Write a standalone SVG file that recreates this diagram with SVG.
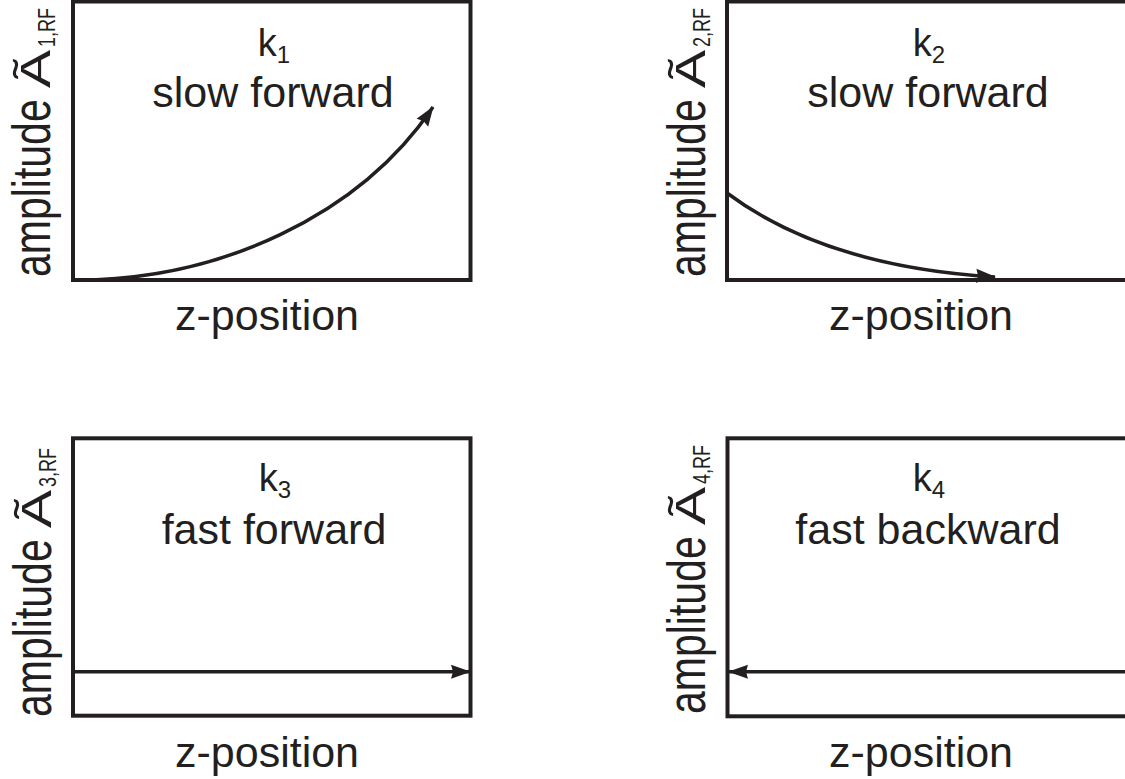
<svg xmlns="http://www.w3.org/2000/svg" width="1125" height="779" viewBox="0 0 1125 779">
  <style>
    .frame { fill: none; stroke: #231f20; stroke-width: 4; }
    .conn { fill: none; stroke: #231f20; stroke-width: 3.5; }
    .t { font-family: "Liberation Sans", Arial, Helvetica, sans-serif; fill: #231f20; }
    .title { font-size: 43px; text-anchor: middle; }
    .k { font-size: 38px; text-anchor: middle; }
    .ax { font-size: 43px; text-anchor: middle; }
    .yl { font-size: 41px; }
    .ys { font-size: 18px; }
    .ya { font-size: 42px; }
  </style>
  <defs>
    <marker id="arrow" markerUnits="userSpaceOnUse" markerWidth="20" markerHeight="16" viewBox="0 0 20 16" refX="19" refY="8" orient="auto">
      <path d="M0,1 L20,8 L0,15 L2,8 z" fill="#231f20"/>
    </marker>
  </defs>
  <rect width="1125" height="779" fill="#ffffff"/>

  <!-- Panel 1 -->
  <g id="panel1">
    <rect class="frame" x="73" y="1.5" width="397.5" height="278.5"/>
    <text class="t k" x="274" y="56">k<tspan font-size="24" dy="7">1</tspan></text>
    <text class="t title" x="273" y="107">slow forward</text>
    <text class="t ax" x="267" y="330">z-position</text>
    <g id="ylabel1">
      <text class="t yl" transform="translate(50,277) rotate(-90) scale(1,1.3)">amplitude</text>
      <text class="t ya" transform="translate(50,88) rotate(-90) scale(1.36,1)">Ã</text>
      <text class="t ys" transform="translate(55,47) rotate(-90) scale(1,1.3)">1,RF</text>
    </g>
  </g>

  <!-- Panel 2 -->
  <g id="panel2">
    <rect class="frame" x="727" y="1.5" width="400" height="278.5"/>
    <text class="t k" x="929" y="56">k<tspan font-size="24" dy="7">2</tspan></text>
    <text class="t title" x="928" y="107">slow forward</text>
    <text class="t ax" x="921" y="330">z-position</text>
    <g id="ylabel2">
      <text class="t yl" transform="translate(705,277) rotate(-90) scale(1,1.3)">amplitude</text>
      <text class="t ya" transform="translate(705,88) rotate(-90) scale(1.36,1)">Ã</text>
      <text class="t ys" transform="translate(710,47) rotate(-90) scale(1,1.3)">2,RF</text>
    </g>
  </g>

  <!-- Panel 3 -->
  <g id="panel3">
    <rect class="frame" x="73" y="438.3" width="397.5" height="277.4"/>
    <text class="t k" x="275" y="491">k<tspan font-size="24" dy="7">3</tspan></text>
    <text class="t title" x="274" y="544">fast forward</text>
    <text class="t ax" x="267" y="767">z-position</text>
    <g id="ylabel3">
      <text class="t yl" transform="translate(51,717) rotate(-90) scale(1,1.3)">amplitude</text>
      <text class="t ya" transform="translate(51,528) rotate(-90) scale(1.36,1)">Ã</text>
      <text class="t ys" transform="translate(56,487) rotate(-90) scale(1,1.3)">3,RF</text>
    </g>
  </g>

  <!-- Panel 4 -->
  <g id="panel4">
    <rect class="frame" x="727.5" y="438.3" width="400" height="278"/>
    <text class="t k" x="929" y="491">k<tspan font-size="24" dy="7">4</tspan></text>
    <text class="t title" x="928" y="544">fast backward</text>
    <text class="t ax" x="921" y="767">z-position</text>
    <g id="ylabel4">
      <text class="t yl" transform="translate(705,714) rotate(-90) scale(1,1.3)">amplitude</text>
      <text class="t ya" transform="translate(705,525) rotate(-90) scale(1.36,1)">Ã</text>
      <text class="t ys" transform="translate(710,484) rotate(-90) scale(1,1.3)">4,RF</text>
    </g>
  </g>

  <!-- Connectors -->
  <g id="connectors">
    <path class="conn" d="M73,280 C220,281 360,215 433,107" marker-end="url(#arrow)"/>
    <path class="conn" d="M727,193 C790,240 880,270 995,277" marker-end="url(#arrow)"/>
    <path class="conn" d="M73,671.7 L470,671.7" marker-end="url(#arrow)"/>
    <path class="conn" d="M1125,671.7 L729,671.7" marker-end="url(#arrow)"/>
  </g>
</svg>
